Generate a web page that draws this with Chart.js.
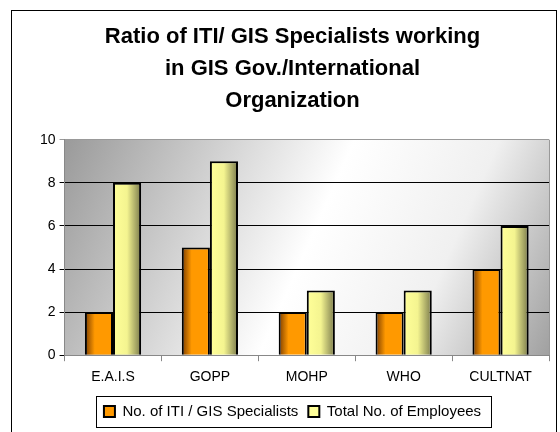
<!DOCTYPE html>
<html>
<head>
<meta charset="utf-8">
<script src="https://cdn.jsdelivr.net/npm/chart.js@4"></script>
<style>
  html, body { margin: 0; padding: 0; background: #fff; }
  #wrap { width: 560px; height: 432px; }
</style>
</head>
<body>
<div id="wrap"><canvas id="bars"></canvas></div>
<script>
const categories = ['E.A.I.S', 'GOPP', 'MOHP', 'WHO', 'CULTNAT'];
const specialists = [2, 5, 2, 2, 4];
const employees = [8, 9, 3, 3, 6];
const seriesNames = ['No. of ITI / GIS Specialists', 'Total No. of Employees'];
const titleLines = ['Ratio of ITI/ GIS Specialists working', 'in GIS Gov./International', 'Organization'];

const FONT = "'Liberation Sans', Arial, sans-serif";

// frame, shaded plot background, per-bar gradients, legend box
const backdrop = {
  id: 'backdrop',
  beforeDraw(chart) {
    const c = chart.ctx;
    const a = chart.chartArea;
    c.save();
    c.strokeStyle = '#000';
    c.lineWidth = 1;
    c.strokeRect(11.5, 10.5, 545, 430);
    const g = c.createLinearGradient(a.left, a.top, a.right, a.bottom);
    g.addColorStop(0, '#9a9a9a');
    g.addColorStop(0.5, '#ffffff');
    g.addColorStop(0.75, '#f0f0f0');
    g.addColorStop(1, '#a0a0a0');
    c.fillStyle = g;
    c.fillRect(a.left, a.top, a.right - a.left, a.bottom - a.top);
    c.strokeStyle = '#999';
    c.beginPath();
    c.moveTo(a.right + 0.5, a.top);
    c.lineTo(a.right + 0.5, a.bottom);
    c.stroke();
    c.restore();
  },
  beforeDatasetsDraw(chart) {
    const c = chart.ctx;
    chart.data.datasets.forEach((ds, di) => {
      chart.getDatasetMeta(di).data.forEach(el => {
        const l = el.x - el.width / 2, r = el.x + el.width / 2;
        const g = c.createLinearGradient(l, 0, r, 0);
        if (di === 0) {
          g.addColorStop(0, '#7a3c00');
          g.addColorStop(0.35, '#ff9900');
          g.addColorStop(1, '#ff9900');
        } else {
          g.addColorStop(0, '#ffff99');
          g.addColorStop(0.5, '#f4f490');
          g.addColorStop(1, '#7a7a4c');
        }
        const o = Object.create(el.options);
        o.backgroundColor = g;
        el.options = o;
      });
    });
  },
  afterDraw(chart) {
    const boxes = chart.legend.legendHitBoxes;
    if (!boxes || !boxes.length) return;
    const c = chart.ctx;
    const first = boxes[0], last = boxes[boxes.length - 1];
    const l = first.left - 8, r = last.left + last.width + 10;
    const t = first.top - 8, b = first.top + first.height + 8;
    c.save();
    c.strokeStyle = '#000';
    c.lineWidth = 1;
    c.strokeRect(Math.round(l) + 0.5, Math.round(t) + 0.5, Math.round(r - l), Math.round(b - t));
    c.restore();
  }
};

new Chart(document.getElementById('bars'), {
  type: 'bar',
  data: {
    labels: categories,
    datasets: [
      { label: seriesNames[0], data: specialists, backgroundColor: '#ff9900', borderColor: '#000', borderWidth: 2 },
      { label: seriesNames[1], data: employees, backgroundColor: '#ffff99', borderColor: '#000', borderWidth: 2 }
    ]
  },
  options: {
    responsive: true,
    maintainAspectRatio: false,
    animation: false,
    categoryPercentage: 0.58,
    barPercentage: 1,
    layout: { padding: { top: 10, left: 36, right: 11, bottom: 3 } },
    plugins: {
      title: {
        display: true,
        text: titleLines,
        color: '#000',
        font: { family: FONT, size: 22, weight: 'bold', lineHeight: 1.45 },
        padding: { top: 11, bottom: 23 }
      },
      legend: {
        position: 'bottom',
        labels: {
          color: '#000',
          font: { family: FONT, size: 15 },
          boxWidth: 11,
          boxHeight: 11,
          padding: 10,
          generateLabels(chart) {
            return chart.data.datasets.map((ds, i) => ({
              text: ds.label,
              fillStyle: i === 0 ? '#ff9900' : '#ffff99',
              strokeStyle: '#000',
              lineWidth: 2,
              datasetIndex: i
            }));
          }
        }
      },
      tooltip: { enabled: false }
    },
    scales: {
      x: {
        grid: { drawOnChartArea: false, tickLength: 6, color: '#888' },
        border: { color: '#888' },
        ticks: { color: '#000', font: { family: FONT, size: 14 }, padding: 8 }
      },
      y: {
        min: 0,
        max: 10,
        ticks: { stepSize: 2, color: '#000', font: { family: FONT, size: 14 }, padding: 4 },
        grid: {
          color: ctx => ctx.tick.value === 10 ? '#999' : '#000',
          tickLength: 5
        },
        border: { color: '#888' }
      }
    }
  },
  plugins: [backdrop]
});
</script>
</body>
</html>
